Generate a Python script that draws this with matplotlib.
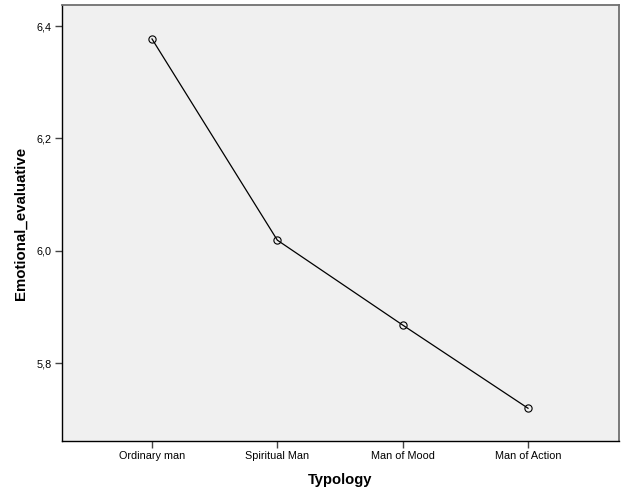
import numpy as np
import matplotlib.pyplot as plt

plt.rcParams['font.family'] = ['Liberation Sans', 'DejaVu Sans']

categories = ['Ordinary man', 'Spiritual Man', 'Man of Mood', 'Man of Action']
means = [6.377, 6.019, 5.868, 5.720]
yticks = [5.8, 6.0, 6.2, 6.4]

fig = plt.figure(figsize=(6.26, 5.01), dpi=100)
ax = fig.add_axes([61.5/626, 1 - 441/501, (619 - 61.5)/626, (441 - 5)/501])
ax.set_facecolor('#f0f0f0')

x = np.arange(len(categories))
ax.plot(x, means, color='black', lw=0.9, marker='o', ms=5.2,
        mfc='none', mec='black', mew=0.8)

ax.set_xlim(-0.722, 3.726)
ax.set_ylim(5.6617, 6.4374)
ax.set_xticks(x)
ax.set_xticklabels(categories)
ax.set_yticks(yticks)
ax.set_yticklabels([('%.1f' % v).replace('.', ',') for v in yticks])
ax.tick_params(labelsize=7.8, length=5, width=1, color='#444444', pad=2)

for s in ['left', 'bottom']:
    ax.spines[s].set_color('black')
    ax.spines[s].set_linewidth(1)
for s in ['top', 'right']:
    ax.spines[s].set_color('#707070')
    ax.spines[s].set_linewidth(1.3)

ax.set_xlabel('Typology', fontsize=10.6, fontweight='bold', labelpad=9)
ax.set_ylabel('Emotional_evaluative', fontsize=10.8, fontweight='bold', labelpad=6)

fig.savefig('out.png', dpi=100)
